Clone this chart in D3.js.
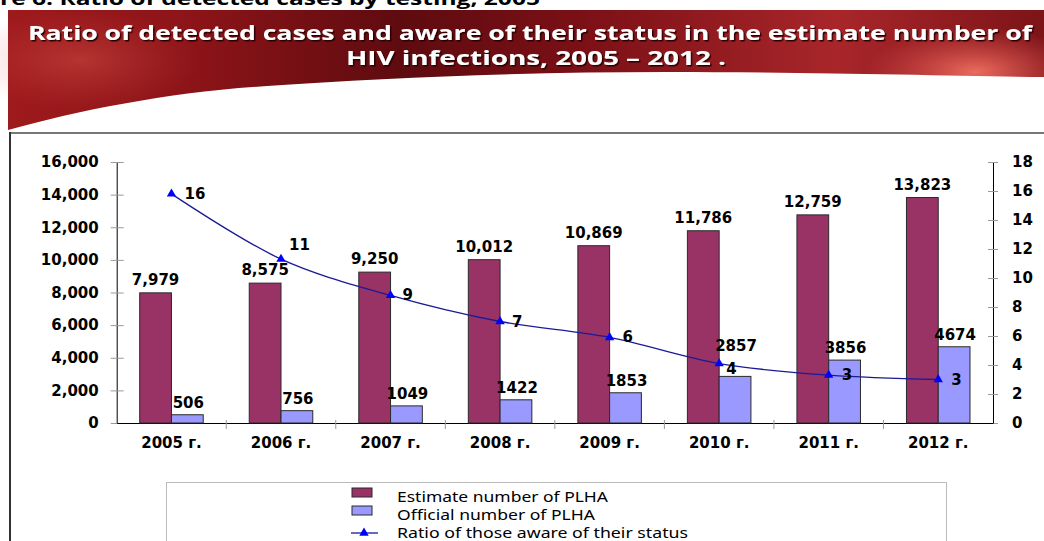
<!DOCTYPE html>
<html>
<head>
<meta charset="utf-8">
<script src="https://cdn.jsdelivr.net/npm/d3@7"></script>
<style>
  body { margin: 0; background: #fff; }
  svg { display: block; }
</style>
</head>
<body>
<div id="chart"></div>
<script>
// Data
const years = ["2005 г.", "2006 г.", "2007 г.", "2008 г.", "2009 г.", "2010 г.", "2011 г.", "2012 г."];
const estimated = [7979, 8575, 9250, 10012, 10869, 11786, 12759, 13823];
const official = [506, 756, 1049, 1422, 1853, 2857, 3856, 4674];
const ratio = [15.8, 11.3, 8.8, 7.0, 5.9, 4.1, 3.3, 3.0];
const ratioLabels = ["16", "11", "9", "7", "6", "4", "3", "3"];
const leftTicks = [0, 2000, 4000, 6000, 8000, 10000, 12000, 14000, 16000];
const rightTicks = [0, 2, 4, 6, 8, 10, 12, 14, 16, 18];
const legendNames = ["Estimate number of PLHA", "Official number of PLHA", "Ratio of those aware of their status"];

const W = 1044, H = 541;
const svg = d3.select("#chart").append("svg").attr("width", W).attr("height", H);
const defs = svg.append("defs");

// ---- banner ----
const lg = defs.append("linearGradient").attr("id", "bannerGrad");
[["0%", "#9e1a1c"], ["18%", "#8c1418"], ["38%", "#5e0b10"], ["55%", "#7a1016"], ["80%", "#a8262a"], ["100%", "#7c1418"]]
  .forEach(s => lg.append("stop").attr("offset", s[0]).attr("stop-color", s[1]));
const rg = defs.append("radialGradient").attr("id", "glow").attr("cx", "0.5").attr("cy", "0.5").attr("r", "0.5");
rg.append("stop").attr("offset", "0%").attr("stop-color", "#f07060").attr("stop-opacity", 0.95);
rg.append("stop").attr("offset", "100%").attr("stop-color", "#e05050").attr("stop-opacity", 0);
const shadow = defs.append("filter").attr("id", "shadow").attr("x", "-5%").attr("y", "-50%")
  .attr("width", "110%").attr("height", "200%");
shadow.append("feDropShadow").attr("dx", 1.5).attr("dy", 1.5).attr("stdDeviation", 0.6)
  .attr("flood-color", "#2a0306").attr("flood-opacity", 1);

svg.append("rect").attr("x", 8).attr("y", 10).attr("width", W - 8).attr("height", 122).attr("fill", "url(#bannerGrad)");
svg.append("ellipse").attr("cx", 975).attr("cy", 72).attr("rx", 110).attr("ry", 45).attr("fill", "url(#glow)");
svg.append("ellipse").attr("cx", 80).attr("cy", 60).attr("rx", 120).attr("ry", 50).attr("fill", "url(#glow)").attr("opacity", 0.35);

// white sweep under the banner
svg.append("path")
  .attr("d", "M8,130 C80,110 170,92 267,86 C380,78 520,72 667,72 C800,72 950,76 1044,77 L1044,133 L8,133 Z")
  .attr("fill", "#fff");

// cut-off caption above the banner
svg.append("text").attr("x", 0).attr("y", 5)
  .attr("font-family", "Open Sans, sans-serif").attr("font-weight", "bold").attr("font-size", 18)
  .attr("textLength", 540).attr("lengthAdjust", "spacingAndGlyphs")
  .text("re 6. Ratio of detected cases by testing, 2005");

const titleLines = [
  { t: "Ratio of detected cases and aware of their status in the estimate number of", y: 40, len: 1004, cx: 530 },
  { t: "HIV infections, 2005 – 2012 .", y: 65, len: 380, cx: 536 }
];
titleLines.forEach(l => {
  svg.append("text")
    .attr("x", l.cx - l.len / 2).attr("y", l.y)
    .attr("font-family", "Open Sans, sans-serif").attr("font-weight", "bold").attr("font-size", 20)
    .attr("textLength", l.len).attr("lengthAdjust", "spacingAndGlyphs")
    .attr("fill", "#fff").attr("filter", "url(#shadow)")
    .text(l.t);
});

// ---- frame ----
svg.append("line").attr("x1", 10).attr("x2", W).attr("y1", 133).attr("y2", 133)
  .attr("stroke", "#777").attr("stroke-width", 2);
svg.append("line").attr("x1", 10).attr("x2", 10).attr("y1", 132).attr("y2", H)
  .attr("stroke", "#333").attr("stroke-width", 2);

// ---- chart ----
const plot = { left: 116.7, right: 993, top: 162, bottom: 423 };
const x = d3.scaleBand().domain(years).range([plot.left, plot.right]);
const yL = d3.scaleLinear().domain([0, 16000]).range([plot.bottom, plot.top]);
const yR = d3.scaleLinear().domain([0, 18]).range([plot.bottom, plot.top]);
const barW = x.bandwidth() * 0.29;
const cx = d => x(d) + x.bandwidth() / 2;
const fmtK = d3.format(",");
const boldFont = "DejaVu Sans, sans-serif";

// left axis
const gL = svg.append("g").attr("transform", `translate(${plot.left},0)`)
  .call(d3.axisLeft(yL).tickValues(leftTicks).tickFormat(fmtK).tickSize(0).tickPadding(18));
gL.select(".domain").attr("stroke", "#000");
gL.selectAll("text").attr("font-family", boldFont).attr("font-weight", "bold").attr("font-size", 15).attr("fill", "#000");
gL.selectAll(".tick").append("line").attr("x1", -6).attr("x2", 7).attr("stroke", "#999");

// right axis
const gR = svg.append("g").attr("transform", `translate(${plot.right},0)`)
  .call(d3.axisRight(yR).tickValues(rightTicks).tickSize(0).tickPadding(19));
gR.select(".domain").attr("stroke", "#000");
gR.selectAll("text").attr("font-family", boldFont).attr("font-weight", "bold").attr("font-size", 15).attr("fill", "#000");
gR.selectAll(".tick").append("line").attr("x1", -5).attr("x2", 5).attr("stroke", "#999");

// bottom axis
const gB = svg.append("g").attr("transform", `translate(0,${plot.bottom})`)
  .call(d3.axisBottom(x).tickSize(0).tickPadding(14));
gB.select(".domain").attr("stroke", "#000").attr("stroke-width", 1.2);
gB.selectAll("text").attr("font-family", boldFont).attr("font-weight", "bold").attr("font-size", 15).attr("fill", "#000");
gB.selectAll(".sep").data(years.slice(1)).enter().append("line")
  .attr("x1", d => x(d)).attr("x2", d => x(d)).attr("y1", -3).attr("y2", 6).attr("stroke", "#999");

// bars
svg.selectAll(".est").data(years).enter().append("rect")
  .attr("x", d => cx(d) - barW).attr("width", barW)
  .attr("y", (d, i) => yL(estimated[i])).attr("height", (d, i) => plot.bottom - yL(estimated[i]))
  .attr("fill", "#993366").attr("stroke", "#2a2a2a").attr("stroke-width", 1);
svg.selectAll(".off").data(years).enter().append("rect")
  .attr("x", d => cx(d)).attr("width", barW)
  .attr("y", (d, i) => yL(official[i])).attr("height", (d, i) => plot.bottom - yL(official[i]))
  .attr("fill", "#9999ff").attr("stroke", "#2a2a2a").attr("stroke-width", 1);

// bar labels
svg.selectAll(".estLbl").data(years).enter().append("text")
  .attr("x", d => cx(d) - barW / 2).attr("y", (d, i) => yL(estimated[i]) - 8)
  .attr("text-anchor", "middle")
  .attr("font-family", boldFont).attr("font-weight", "bold").attr("font-size", 15)
  .text((d, i) => fmtK(estimated[i]));
const offLift = [0, 0, 0, 0, 0, 18, 0, 0];
svg.selectAll(".offLbl").data(years).enter().append("text")
  .attr("x", d => cx(d) + barW / 2 + 1).attr("y", (d, i) => yL(official[i]) - 7 - offLift[i])
  .attr("text-anchor", "middle")
  .attr("font-family", boldFont).attr("font-weight", "bold").attr("font-size", 15)
  .text((d, i) => official[i]);

// ratio line
const line = d3.line().x((d, i) => cx(years[i])).y(d => yR(d)).curve(d3.curveCatmullRom);
svg.append("path").datum(ratio).attr("d", line)
  .attr("fill", "none").attr("stroke", "#1a1a99").attr("stroke-width", 1.3);
const tri = d3.symbol().type(d3.symbolTriangle).size(38);
svg.selectAll(".mk").data(ratio).enter().append("path")
  .attr("d", tri)
  .attr("transform", (d, i) => `translate(${cx(years[i])},${yR(d)})`)
  .attr("fill", "#0000ff");
const rdx = [13, 8, 12, 12, 13, 7, 13, 13];
const rdy = [0, -14, 0, 0, 0, 5, 0, 0];
svg.selectAll(".rLbl").data(ratio).enter().append("text")
  .attr("x", (d, i) => cx(years[i]) + rdx[i]).attr("y", (d, i) => yR(d) + rdy[i] + 5)
  .attr("font-family", boldFont).attr("font-weight", "bold").attr("font-size", 15)
  .text((d, i) => ratioLabels[i]);

// ---- legend ----
svg.append("rect").attr("x", 166.5).attr("y", 482.5).attr("width", 780).attr("height", 70)
  .attr("fill", "#fff").attr("stroke", "#bbb");
const legLen = [211, 198, 291];
const rows = [497, 515, 533];
legendNames.forEach((name, i) => {
  if (i < 2) {
    svg.append("rect").attr("x", 352).attr("y", rows[i] - 9).attr("width", 20).attr("height", 9)
      .attr("fill", i === 0 ? "#993366" : "#9999ff").attr("stroke", "#2a2a2a");
  } else {
    svg.append("line").attr("x1", 351).attr("x2", 378).attr("y1", rows[i]).attr("y2", rows[i])
      .attr("stroke", "#1a1a99").attr("stroke-width", 1.3);
    svg.append("path").attr("d", tri).attr("transform", `translate(364,${rows[i]})`).attr("fill", "#0000ff");
  }
  svg.append("text").attr("x", 397).attr("y", rows[i] + 5)
    .attr("font-family", "Noto Sans, sans-serif").attr("font-size", 14)
    .attr("textLength", legLen[i]).attr("lengthAdjust", "spacingAndGlyphs")
    .text(name);
});
</script>
</body>
</html>
